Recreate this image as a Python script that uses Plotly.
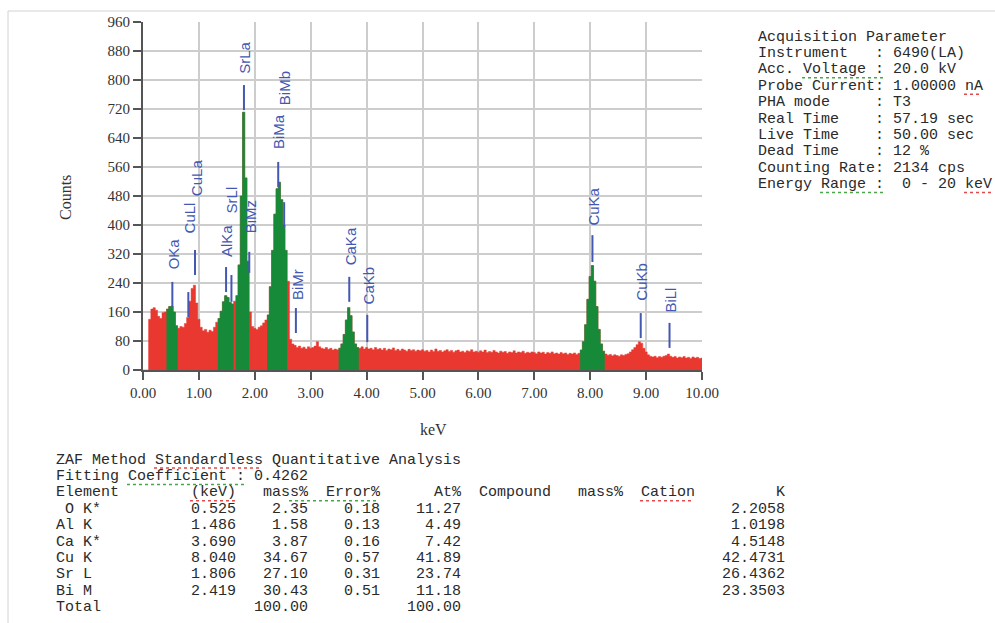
import plotly.graph_objects as go

# ---------------- data ----------------
# EDS spectrum counts, one value per 0.04 keV channel from 0.00 to 10.00 keV
counts = [
    0, 0, 0, 140, 168, 172, 165, 148, 142, 158, 160, 168, 175, 176, 160, 122, 115, 120, 118, 128, 145, 190, 225, 234, 185,
    140, 118, 108, 112, 104, 110, 106, 118, 132, 142, 162, 188, 205, 200, 186, 182, 190, 205, 290, 480, 711, 530, 300, 160, 120,
    115, 112, 118, 122, 130, 138, 152, 230, 330, 430, 500, 518, 470, 400, 330, 245, 85, 72, 68, 62, 66, 60, 63, 58, 64,
    60, 62, 66, 78, 64, 60, 58, 62, 57, 60, 55, 58, 56, 60, 72, 98, 138, 172, 150, 105, 72, 62, 60, 64, 58,
    62, 58, 60, 56, 62, 57, 59, 55, 60, 54, 58, 56, 61, 54, 57, 53, 58, 55, 52, 57, 54, 56, 52, 55, 53,
    56, 52, 54, 50, 55, 51, 58, 52, 54, 50, 53, 56, 51, 54, 49, 53, 55, 50, 52, 48, 53, 51, 56, 50, 52,
    49, 53, 50, 55, 48, 51, 49, 54, 50, 47, 52, 49, 51, 46, 50, 48, 53, 47, 50, 48, 52, 46, 49, 47, 50,
    48, 45, 50, 47, 49, 44, 48, 46, 50, 45, 47, 44, 48, 45, 47, 43, 46, 44, 47, 43, 46, 55, 78, 125, 195,
    258, 288, 245, 175, 112, 72, 52, 44, 41, 43, 39, 42, 40, 38, 42, 40, 43, 45, 50, 56, 62, 70, 78, 74, 60,
    50, 42, 38, 36, 38, 34, 37, 35, 38, 40, 44, 38, 35, 37, 33, 36, 34, 37, 33, 35, 32, 36, 33, 35, 32,
    33,
]
channel_width = 0.04
energies = [round(i * channel_width, 2) for i in range(len(counts))]

# integration windows (keV) shown in green
roi_windows = [[0.42, 0.62], [1.34, 1.62], [1.66, 1.90], [2.22, 2.58], [3.50, 3.86], [7.82, 8.26]]

# peak identification labels
peak_labels = ["OKa", "CuLl", "CuLa", "AlKa", "SrLl", "SrLa", "BiMz", "BiMa", "BiMb", "BiMr",
               "CaKa", "CaKb", "CuKa", "CuKb", "BiLl"]
peak_energies = [0.525, 0.811, 0.930, 1.486, 1.582, 1.806, 1.901, 2.419, 2.525, 2.735,
                 3.690, 4.012, 8.040, 8.904, 9.419]
marker_low = [175, 146, 262, 215, 188, 717, 268, 505, 394, 102, 188, 77, 298, 88, 61]
marker_high = [243, 215, 331, 284, 262, 786, 326, 574, 463, 171, 257, 152, 372, 157, 130]
label_y = [320, 419, 532, 356, 469, 861, 422, 657, 778, 237, 342, 234, 452, 243, 193]

x_ticks = [0, 1, 2, 3, 4, 5, 6, 7, 8, 9, 10]
y_ticks = [0, 80, 160, 240, 320, 400, 480, 560, 640, 720, 800, 880, 960]

acq_lines = [
    "Acquisition Parameter",
    "Instrument   : 6490(LA)",
    "Acc. Voltage : 20.0 kV",
    "Probe Current: 1.00000 nA",
    "PHA mode     : T3",
    "Real Time    : 57.19 sec",
    "Live Time    : 50.00 sec",
    "Dead Time    : 12 %",
    "Counting Rate: 2134 cps",
    "Energy Range :  0 - 20 keV",
]

elements = [" O K*", "Al K", "Ca K*", "Cu K", "Sr L", "Bi M"]
elem_kev = [0.525, 1.486, 3.690, 8.040, 1.806, 2.419]
elem_mass = [2.35, 1.58, 3.87, 34.67, 27.10, 30.43]
elem_error = [0.18, 0.13, 0.16, 0.57, 0.31, 0.51]
elem_at = [11.27, 4.49, 7.42, 41.89, 23.74, 11.18]
elem_k = [2.2058, 1.0198, 4.5148, 42.4731, 26.4362, 23.3503]
total_mass = 100.00
total_at = 100.00
fitting_coefficient = 0.4262

# ---------------- styling ----------------
RED = "#e8382f"
GREEN = "#178a3a"
BLUE = "#4358b2"
MONO = "Liberation Mono, Courier New, monospace"
SERIF = "Liberation Serif, Times New Roman, serif"

# plot area in page pixels (for placing the text blocks)
L, R, T, B = 143, 702, 22, 370
W, H = 995, 623


def px(xp):
    return (xp - L) / (R - L)


def py(yp):
    return (B - yp) / (B - T)


def step_xy(idx):
    half = channel_width / 2
    xs = [energies[i] - half for i in idx] + [energies[idx[-1]] + half]
    ys = [counts[i] for i in idx] + [counts[idx[-1]]]
    return xs, ys


fig = go.Figure()

# full spectrum (red)
xs, ys = step_xy(list(range(len(counts))))
fig.add_trace(go.Scatter(x=xs, y=ys, mode="lines", line=dict(color=RED, width=0.5, shape="hv"),
                         fill="tozeroy", fillcolor=RED, hoverinfo="skip", showlegend=False))

# integration windows (green)
for a, b in roi_windows:
    idx = [i for i, e in enumerate(energies) if a - 1e-9 < e < b]
    xs, ys = step_xy(idx)
    fig.add_trace(go.Scatter(x=xs, y=ys, mode="lines", line=dict(color=GREEN, width=0.5, shape="hv"),
                             fill="tozeroy", fillcolor=GREEN, hoverinfo="skip", showlegend=False))

# peak marker ticks
mx, my = [], []
for e, lo, hi in zip(peak_energies, marker_low, marker_high):
    mx += [e, e, None]
    my += [lo, hi, None]
fig.add_trace(go.Scatter(x=mx, y=my, mode="lines", line=dict(color=BLUE, width=2),
                         hoverinfo="skip", showlegend=False))

annotations = []
for lab, e, yv in zip(peak_labels, peak_energies, label_y):
    annotations.append(dict(x=e, y=yv, xref="x", yref="y", text=lab, textangle=-90, showarrow=False,
                            xanchor="center", yanchor="middle", xshift=1,
                            font=dict(family="Liberation Sans, Arial, sans-serif", size=15, color=BLUE)))

# axis titles
annotations.append(dict(x=px(65), y=py(198), xref="paper", yref="paper", text="Counts", textangle=-90,
                        showarrow=False, xanchor="center", yanchor="middle",
                        font=dict(family=SERIF, size=16, color="#333333")))
annotations.append(dict(x=px(433), y=py(429), xref="paper", yref="paper", text="keV",
                        showarrow=False, xanchor="center", yanchor="middle",
                        font=dict(family=SERIF, size=16, color="#333333")))


def mono(s):
    return s.replace(" ", "\u00a0")


# acquisition parameter block
for k, line in enumerate(acq_lines):
    annotations.append(dict(x=px(756), y=py(37 + 16.4 * k), xref="paper", yref="paper", text=mono(line),
                            showarrow=False, xanchor="left", yanchor="middle", align="left",
                            font=dict(family=MONO, size=15, color="#2a2a2a")))

# quantitative analysis table
table_lines = [
    "ZAF Method Standardless Quantitative Analysis",
    f"Fitting Coefficient : {fitting_coefficient:.4f}",
    "Element".ljust(15) + "(keV)" + "mass%".rjust(8) + "Error%".rjust(8) + "At%".rjust(9)
    + "Compound".rjust(10) + "mass%".rjust(8) + "Cation".rjust(8) + "K".rjust(10),
]
for name, kv, m, er, at, kk in zip(elements, elem_kev, elem_mass, elem_error, elem_at, elem_k):
    table_lines.append(name.ljust(15) + f"{kv:.3f}".rjust(5) + f"{m:.2f}".rjust(8) + f"{er:.2f}".rjust(8)
                       + f"{at:.2f}".rjust(9) + f"{kk:.4f}".rjust(36))
table_lines.append("Total".ljust(20) + f"{total_mass:.2f}".rjust(8) + " " * 8 + f"{total_at:.2f}".rjust(9))

for k, line in enumerate(table_lines):
    annotations.append(dict(x=px(54), y=py(460 + 16.4 * k), xref="paper", yref="paper", text=mono(line),
                            showarrow=False, xanchor="left", yanchor="middle", align="left",
                            font=dict(family=MONO, size=15, color="#2a2a2a")))

# spell-check squiggles and outer frame
CW = 9.0
shapes = [dict(type="rect", xref="paper", yref="paper", x0=px(8), y0=py(11), x1=px(1010), y1=py(640),
               line=dict(color="#d2d2d2", width=1), layer="below")]
squiggles = [
    (757, 5, 14, 37 + 16.4 * 2, "green"), (757, 23, 25, 37 + 16.4 * 3, "red"),
    (757, 7, 14, 37 + 16.4 * 9, "green"), (757, 23, 26, 37 + 16.4 * 9, "red"),
    (55, 11, 23, 460, "red"), (55, 8, 21, 460 + 16.4, "green"),
    (55, 15, 20, 460 + 32.8, "red"), (55, 26, 36, 460 + 32.8, "green"), (55, 65, 71, 460 + 32.8, "red"),
]
for x0, c0, c1, yl, col in squiggles:
    shapes.append(dict(type="line", xref="paper", yref="paper",
                       x0=px(x0 + c0 * CW), x1=px(x0 + c1 * CW), y0=py(yl + 8), y1=py(yl + 8),
                       line=dict(color="#e04a4a" if col == "red" else "#4aa64a", width=1.5, dash="dot")))

axis_common = dict(showgrid=True, gridcolor="#cdcdcd", gridwidth=2, showline=True, linecolor="#555555",
                   linewidth=2, ticks="outside", ticklen=8, tickwidth=2, tickcolor="#555555",
                   zeroline=False, tickfont=dict(family=SERIF, size=15, color="#333333"))

fig.update_layout(
    width=W, height=H,
    margin=dict(l=L, r=W - R, t=T, b=H - B, pad=0),
    paper_bgcolor="white", plot_bgcolor="white",
    xaxis=dict(range=[0, 10], tickvals=x_ticks, ticktext=[f"{v:.2f}" for v in x_ticks], **axis_common),
    yaxis=dict(range=[0, 960], tickvals=y_ticks, ticktext=[str(v) for v in y_ticks], **axis_common),
    annotations=annotations,
    shapes=shapes,
    showlegend=False,
)

# remove the default page margin so the figure sits at the top-left corner of the window
fig.write_html("out.html", config={"displayModeBar": False},
               post_script="document.body.style.margin='0';document.body.style.overflow='hidden';")
